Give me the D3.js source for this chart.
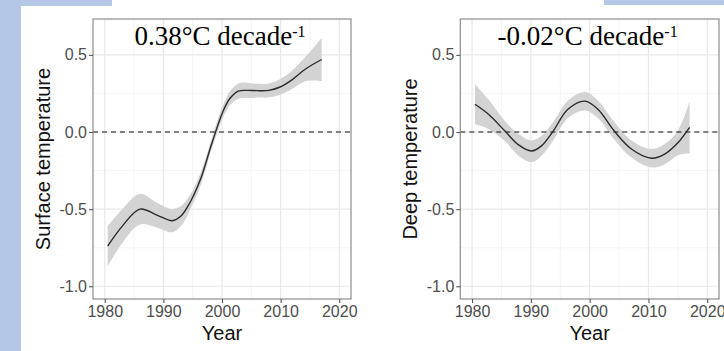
<!DOCTYPE html>
<html>
<head>
<meta charset="utf-8">
<script src="https://cdn.jsdelivr.net/npm/d3@7"></script>
<style>
  body { margin: 0; background: #fff; }
  svg { display: block; }
</style>
</head>
<body>
<div id="vis"></div>
<script>
// surface panel
const surfYears = [1980.5, 1983, 1986, 1989, 1991.5, 1993, 1994.5, 1996.3, 1998.3, 2000.2, 2001.4, 2002.8, 2004.2, 2006, 2008, 2009.8, 2012, 2014.3, 2017];
const surfFit   = [-0.74, -0.61, -0.50, -0.54, -0.575, -0.545, -0.46, -0.31, -0.07, 0.136, 0.22, 0.265, 0.27, 0.268, 0.27, 0.29, 0.34, 0.41, 0.47];
const surfLo    = [-0.87, -0.72, -0.60, -0.62, -0.65, -0.61, -0.51, -0.35, -0.105, 0.096, 0.175, 0.215, 0.22, 0.223, 0.225, 0.24, 0.28, 0.33, 0.33];
const surfHi    = [-0.61, -0.50, -0.40, -0.46, -0.50, -0.48, -0.41, -0.27, -0.035, 0.176, 0.265, 0.315, 0.32, 0.313, 0.315, 0.34, 0.40, 0.49, 0.61];

// deep panel
const deepYears = [1980.5, 1982.8, 1985.6, 1987.8, 1990.1, 1991.8, 1993.8, 1996.3, 1999.2, 2001.4, 2004.2, 2007.1, 2010.5, 2012.7, 2015, 2017];
const deepFit   = [0.18, 0.115, 0.006, -0.08, -0.123, -0.09, 0.006, 0.147, 0.20, 0.147, 0.006, -0.11, -0.17, -0.145, -0.07, 0.03];
const deepLo    = [0.05, 0.02, -0.06, -0.15, -0.195, -0.155, -0.055, 0.09, 0.14, 0.09, -0.05, -0.165, -0.23, -0.21, -0.15, -0.14];
const deepHi    = [0.31, 0.21, 0.07, -0.01, -0.055, -0.025, 0.065, 0.205, 0.26, 0.205, 0.065, -0.055, -0.11, -0.08, 0.01, 0.20];

const xTicks = [1980, 1990, 2000, 2010, 2020];
const xMinor = [1985, 1995, 2005, 2015];
const yTicks = [0.5, 0.0, -0.5, -1.0];
const yMinor = [0.25, -0.25, -0.75];

const WIDTH = 724, HEIGHT = 351;
const TOP = 19, BOTTOM = 299;

const svg = d3.select('#vis').append('svg')
    .attr('width', WIDTH)
    .attr('height', HEIGHT);

svg.append('rect').attr('width', WIDTH).attr('height', HEIGHT).attr('fill', '#fff');

// slide decoration in the background
const BLUE = '#b4c7e7';
svg.append('rect').attr('x', 0).attr('y', 0).attr('width', 112).attr('height', 6).attr('fill', BLUE);
svg.append('rect').attr('x', 0).attr('y', 0).attr('width', 21).attr('height', HEIGHT).attr('fill', BLUE);
svg.append('rect').attr('x', 604).attr('y', 0).attr('width', 120).attr('height', 5).attr('fill', BLUE);

// ggplot prints a plain hyphen for negatives
const fmtY = d => d3.format('.1f')(d).replace('\u2212', '-');

function drawPanel(left, right, years, fit, lo, hi, title, yTitle, yTitleX) {
    const x = d3.scaleLinear().domain([1978, 2022]).range([left, right]);
    const y = d3.scaleLinear().domain([-1.0825, 0.7325]).range([BOTTOM, TOP]);
    const g = svg.append('g');

    // grid
    g.selectAll('.xminor').data(xMinor).enter().append('line')
        .attr('x1', d => x(d)).attr('x2', d => x(d))
        .attr('y1', TOP).attr('y2', BOTTOM)
        .attr('stroke', '#f2f2f2').attr('stroke-width', 0.8);
    g.selectAll('.yminor').data(yMinor).enter().append('line')
        .attr('x1', left).attr('x2', right)
        .attr('y1', d => y(d)).attr('y2', d => y(d))
        .attr('stroke', '#f2f2f2').attr('stroke-width', 0.8);
    g.selectAll('.xmajor').data(xTicks).enter().append('line')
        .attr('x1', d => x(d)).attr('x2', d => x(d))
        .attr('y1', TOP).attr('y2', BOTTOM)
        .attr('stroke', '#e8e8e8').attr('stroke-width', 1.2);
    g.selectAll('.ymajor').data(yTicks).enter().append('line')
        .attr('x1', left).attr('x2', right)
        .attr('y1', d => y(d)).attr('y2', d => y(d))
        .attr('stroke', '#e8e8e8').attr('stroke-width', 1.2);

    const pts = years.map((d, i) => ({year: d, fit: fit[i], lo: lo[i], hi: hi[i]}));

    // confidence band
    g.append('path')
        .datum(pts)
        .attr('fill', '#d3d3d3')
        .attr('d', d3.area()
            .x(d => x(d.year))
            .y0(d => y(d.lo))
            .y1(d => y(d.hi))
            .curve(d3.curveCatmullRom.alpha(0.5)));

    // zero reference
    g.append('line')
        .attr('x1', left).attr('x2', right)
        .attr('y1', y(0)).attr('y2', y(0))
        .attr('stroke', '#111').attr('stroke-width', 1.2)
        .attr('stroke-dasharray', '5,4');

    // fitted line
    g.append('path')
        .datum(pts)
        .attr('fill', 'none')
        .attr('stroke', '#2b2b2b')
        .attr('stroke-width', 1.4)
        .attr('d', d3.line()
            .x(d => x(d.year))
            .y(d => y(d.fit))
            .curve(d3.curveCatmullRom.alpha(0.5)));

    // border
    g.append('rect')
        .attr('x', left).attr('y', TOP)
        .attr('width', right - left).attr('height', BOTTOM - TOP)
        .attr('fill', 'none').attr('stroke', '#8c8c8c').attr('stroke-width', 1.2);

    // axes
    const xAxis = g.append('g')
        .attr('transform', 'translate(0,' + BOTTOM + ')')
        .call(d3.axisBottom(x).tickValues(xTicks).tickFormat(d3.format('d')).tickSize(4).tickPadding(3));
    const yAxis = g.append('g')
        .attr('transform', 'translate(' + left + ',0)')
        .call(d3.axisLeft(y).tickValues(yTicks).tickFormat(fmtY).tickSize(4).tickPadding(2));
    [xAxis, yAxis].forEach(a => {
        a.select('.domain').remove();
        a.selectAll('.tick line').attr('stroke', '#555').attr('stroke-width', 1.1);
        a.selectAll('.tick text')
            .attr('fill', '#4d4d4d')
            .attr('font-family', 'Liberation Sans, Arial, sans-serif')
            .attr('font-size', '16px');
    });

    // axis titles
    g.append('text')
        .attr('x', (left + right) / 2).attr('y', 340)
        .attr('text-anchor', 'middle')
        .attr('font-family', 'Liberation Sans, Arial, sans-serif')
        .attr('font-size', '20px')
        .attr('fill', '#111')
        .text('Year');
    g.append('text')
        .attr('transform', 'translate(' + yTitleX + ',' + (TOP + BOTTOM) / 2 + ') rotate(-90)')
        .attr('text-anchor', 'middle')
        .attr('font-family', 'Liberation Sans, Arial, sans-serif')
        .attr('font-size', '20px')
        .attr('fill', '#111')
        .text(yTitle);

    // trend annotation
    const t = g.append('text')
        .attr('x', (left + right) / 2 - 2).attr('y', 45)
        .attr('text-anchor', 'middle')
        .attr('font-family', 'Liberation Serif, Times New Roman, serif')
        .attr('font-size', '27px')
        .attr('fill', '#000');
    t.append('tspan').text(title);
    t.append('tspan').attr('font-size', '16px').attr('dy', -8).text('-1');
}

drawPanel(93, 351, surfYears, surfFit, surfLo, surfHi, '0.38°C decade', 'Surface temperature', 50);
drawPanel(460.3, 719, deepYears, deepFit, deepLo, deepHi, '-0.02°C decade', 'Deep temperature', 417);
</script>
</body>
</html>
